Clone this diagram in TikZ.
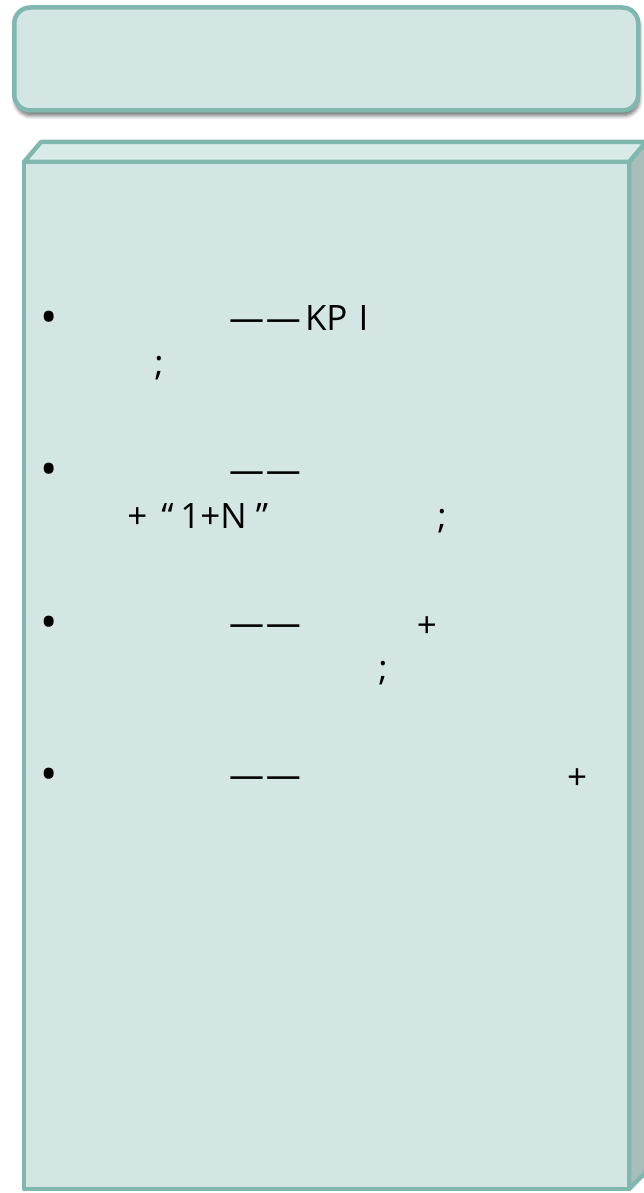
\documentclass[tikz,border=0pt]{standalone}
\usepackage{fontspec}
\setmainfont{Open Sans}
\usetikzlibrary{shadows.blur}
\definecolor{boxfill}{HTML}{D3E6E4}
\definecolor{boxline}{HTML}{80B8AF}
\definecolor{topface}{HTML}{D9EBE8}
\definecolor{sideface}{HTML}{A9BDB9}
\begin{document}
\begin{tikzpicture}[x=1pt,y=-1pt,
  txt/.style={inner sep=0pt, outer sep=0pt, font=\fontsize{35}{42}\selectfont, text=black, anchor=base},
  txtw/.style={txt, anchor=base west},
  dot/.style={txt, font=\fontsize{46}{50}\selectfont},
  edge/.style={draw=boxline, line width=4.5pt, line join=round}]
\useasboundingbox (0,0) rectangle (644,1193);
\clip (0,0) rectangle (644,1193);
% title box
\node[edge, fill=boxfill, rounded corners=16pt, minimum width=624pt, minimum height=103pt,
  blur shadow={shadow xshift=1pt, shadow yshift=-5pt, shadow blur radius=4pt, shadow blur steps=8, shadow opacity=60}] (title) at (326.25,59) {};
% cuboid
\coordinate (fl) at (24,162);
\coordinate (fr) at (629,162);
\coordinate (bl) at (41,142);
\coordinate (br) at (646,142);
\coordinate (dr) at (629,1189);
\coordinate (dl) at (24,1189);
\coordinate (sb) at (646,1172);
\filldraw[edge, fill=sideface] (fr) -- (br) -- (sb) -- (dr) -- cycle;
\filldraw[edge, fill=topface] (fl) -- (bl) -- (br) -- (fr) -- cycle;
\filldraw[edge, fill=boxfill] (fl) -- (fr) -- (dr) -- (dl) -- cycle;
% bullet 1
\node[dot] (b1) at (49,333) {•};
\node[txtw] (b1d) at (229,330) {—\kern2pt—};
\node[txtw] (b1k) at (305,330) {KP\kern11pt I};
\node[txt] (b1s) at (159,375) {;};
% bullet 2
\node[dot] (b2) at (49,485) {•};
\node[txtw] (b2d) at (229,482) {—\kern2pt—};
\node[txt] (b2p) at (137.5,528) {+};
\node[txt] (b2q) at (167.5,528) {“};
\node[txt] (b2n) at (213.5,528) {1+N};
\node[txt] (b2r) at (262,528) {”};
\node[txt] (b2s) at (442,528) {;};
% bullet 3
\node[dot] (b3) at (49,638) {•};
\node[txtw] (b3d) at (229,635) {—\kern2pt—};
\node[txt] (b3p) at (427,637) {+};
\node[txt] (b3s) at (383,680) {;};
% bullet 4
\node[dot] (b4) at (49,790) {•};
\node[txtw] (b4d) at (229,787) {—\kern2pt—};
\node[txt] (b4p) at (577,789) {+};
\end{tikzpicture}
\end{document}
